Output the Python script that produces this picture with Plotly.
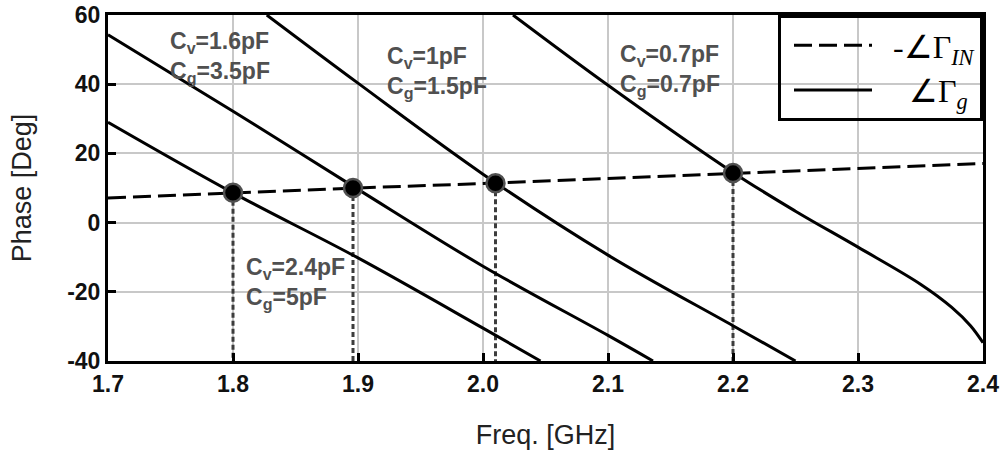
import plotly.graph_objects as go

# ---------------- data ----------------
# -angle(Gamma_IN) : dashed line
in_freq = [1.70, 1.80, 1.90, 2.00, 2.10, 2.20, 2.30, 2.40]
in_phase = [7.1, 8.6, 10.0, 11.3, 12.8, 14.3, 15.7, 17.1]

# angle(Gamma_g) curves (solid)
a_freq = [1.700, 1.800, 1.900, 2.000, 2.046]          # Cv=2.4pF, Cg=5pF
a_phase = [29.0, 8.6, -10.2, -30.5, -40.0]

b_freq = [1.700, 1.800, 1.900, 2.000, 2.100, 2.136]   # Cv=1.6pF, Cg=3.5pF
b_phase = [54.3, 32.2, 9.6, -12.6, -32.6, -40.0]

c_freq = [1.827, 1.900, 2.000, 2.100, 2.200, 2.250]   # Cv=1pF, Cg=1.5pF
c_phase = [60.0, 40.3, 14.0, -9.4, -29.8, -40.0]

d_freq = [2.024, 2.100, 2.200, 2.250, 2.300, 2.350, 2.375, 2.390, 2.400]  # Cv=0.7pF, Cg=0.7pF
d_phase = [60.0, 39.7, 14.5, 3.3, -7.1, -17.8, -24.5, -29.8, -34.7]

# intersection points
cross_freq = [1.800, 1.896, 2.010, 2.200]
cross_phase = [8.6, 10.0, 11.4, 14.3]

# axis ticks
x_ticks = [1.7, 1.8, 1.9, 2.0, 2.1, 2.2, 2.3, 2.4]
x_ticktext = ["1.7", "1.8", "1.9", "2.0", "2.1", "2.2", "2.3", "2.4"]
y_ticks = [-40, -20, 0, 20, 40, 60]
y_ticktext = ["-40", "-20", "0", "20", "40", "60"]

curve_labels = [
    "C<sub>v</sub>=2.4pF<br>C<sub>g</sub>=5pF",
    "C<sub>v</sub>=1.6pF<br>C<sub>g</sub>=3.5pF",
    "C<sub>v</sub>=1pF<br>C<sub>g</sub>=1.5pF",
    "C<sub>v</sub>=0.7pF<br>C<sub>g</sub>=0.7pF",
]
label_pos = [(1.809, -17.7), (1.748, 47.6), (1.9216, 43.3), (2.108, 43.9)]

y_min = -40

# ---------------- figure ----------------
fig = go.Figure()

# vertical dotted drop lines from intersections
vx, vy = [], []
for f, p in zip(cross_freq, cross_phase):
    vx += [f, f, None]
    vy += [p, y_min, None]
fig.add_trace(go.Scatter(x=vx, y=vy, mode="lines", showlegend=False,
                         line=dict(color="#3c3c3c", width=3, dash="5px,3px"),
                         hoverinfo="skip"))

fig.add_trace(go.Scatter(x=in_freq, y=in_phase, mode="lines",
                         name="\u00a0\u00a0-∠Γ<sub><i>IN</i></sub>", legendgroup="in",
                         line=dict(color="black", width=3, dash="18px,7px")))

solid = dict(color="black", width=3)
fig.add_trace(go.Scatter(x=b_freq, y=b_phase, mode="lines", line=solid,
                         line_shape="spline", name="\u00a0\u00a0\u00a0\u00a0∠Γ<sub><i>g</i></sub>",
                         legendgroup="g"))
for fx, py in [(a_freq, a_phase), (c_freq, c_phase), (d_freq, d_phase)]:
    fig.add_trace(go.Scatter(x=fx, y=py, mode="lines", line=solid,
                             line_shape="spline", showlegend=False))

fig.add_trace(go.Scatter(x=cross_freq, y=cross_phase, mode="markers", showlegend=False,
                         marker=dict(color="black", size=18,
                                     line=dict(color="#505050", width=2.5))))

for txt, (lx, ly) in zip(curve_labels, label_pos):
    fig.add_annotation(x=lx, y=ly, text=txt, showarrow=False, xanchor="left",
                       yanchor="middle", align="left",
                       font=dict(family="Liberation Sans, Arial", size=23, color="#505050",
                                 weight="bold"))

axis_common = dict(
    showline=True, linecolor="black", linewidth=3, mirror=True,
    showgrid=True, gridcolor="#c8c8c8", gridwidth=1.5,
    ticks="inside", ticklen=8, tickwidth=3, tickcolor="black",
    zeroline=False, automargin=False, ticklabeloverflow="allow",
    tickfont=dict(family="Liberation Sans, Arial", size=23, color="#111", weight="bold"),
)

fig.update_layout(
    width=1005, height=466,
    margin=dict(l=108, r=22, t=15, b=105),
    paper_bgcolor="white", plot_bgcolor="white",
    font=dict(family="Liberation Sans, Arial", color="#222"),
    xaxis=dict(range=[1.7, 2.4], tickvals=x_ticks, ticktext=x_ticktext,
               title=dict(text="Freq. [GHz]", font=dict(size=27, color="#222"), standoff=30),
               **axis_common),
    yaxis=dict(range=[-40, 60], tickvals=y_ticks, ticktext=y_ticktext,
               title=dict(text="Phase [Deg]", font=dict(size=27, color="#222"), standoff=28),
               **axis_common),
    legend=dict(x=1, y=1, xanchor="right", yanchor="top",
                bgcolor="rgba(0,0,0,0)", bordercolor="black", borderwidth=3,
                font=dict(family="Liberation Serif, Times New Roman, serif", size=32, color="black"),
                itemwidth=78, tracegroupgap=0, indentation=8),
    showlegend=True,
)

fig.write_html("out.html")
